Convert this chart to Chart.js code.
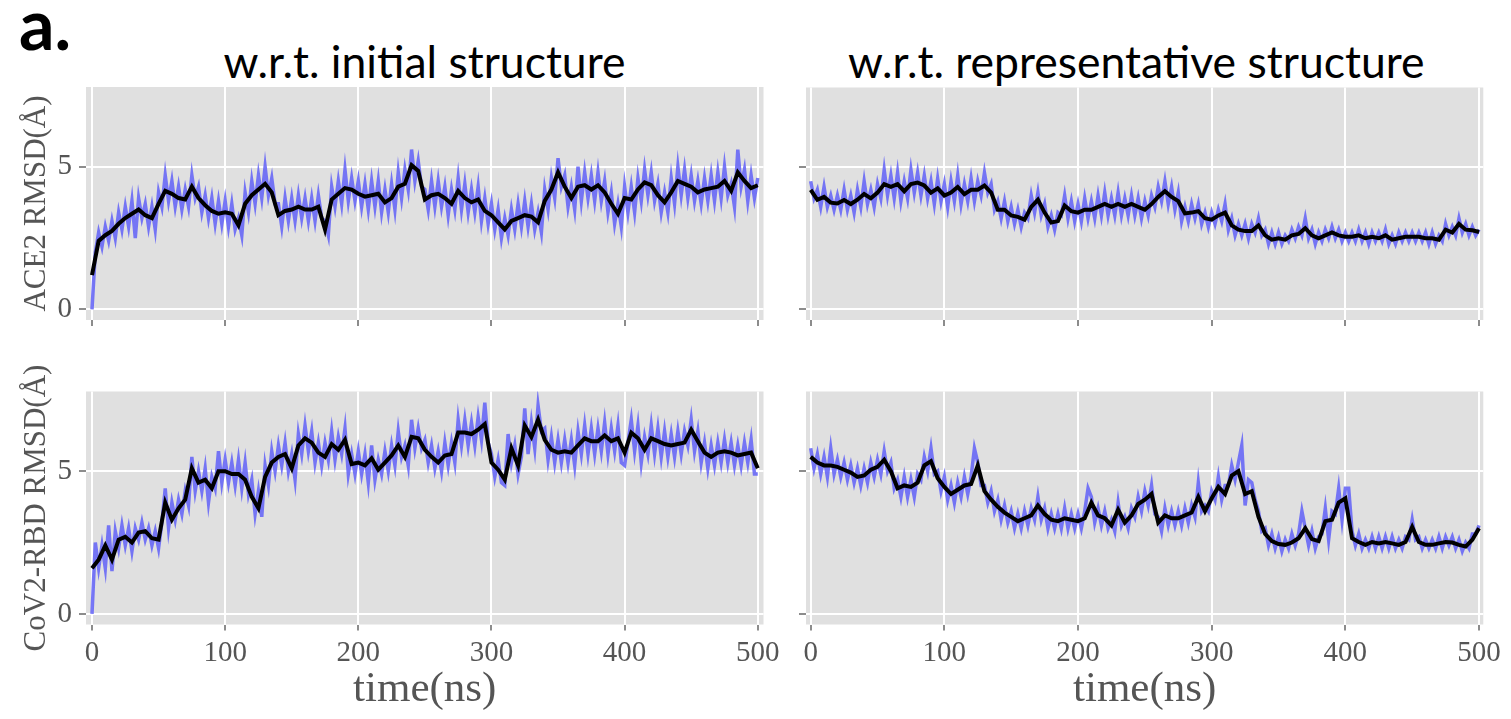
<!DOCTYPE html>
<html>
<head>
<meta charset="utf-8">
<script src="https://cdn.jsdelivr.net/npm/chart.js@4"></script>
<style>
  body { margin: 0; background: #fff; width: 1511px; height: 719px; position: relative; overflow: hidden; }
  canvas { position: absolute; }
  .title { position: absolute; font-family: Lato, sans-serif; font-size: 44.5px; line-height: 44.5px; color: #000; text-align: center; white-space: nowrap; }
  #tag { position: absolute; left: 19px; top: -12px; font-family: Lato, sans-serif; font-weight: bold; font-size: 70px; line-height: 70px; }
</style>
</head>
<body>
<div id="tag">a.</div>
<div class="title" style="left:223px; width:403px; top:39px;">w.r.t. initial structure</div>
<div class="title" style="left:848px; width:575px; top:39px;">w.r.t. representative structure</div>
<canvas id="c1" width="790" height="255" style="left:0; top:80px;"></canvas>
<canvas id="c2" width="721" height="255" style="left:790px; top:80px;"></canvas>
<canvas id="c3" width="790" height="379" style="left:0; top:340px;"></canvas>
<canvas id="c4" width="721" height="339" style="left:790px; top:380px;"></canvas>
<script>
// axis ticks
var xTicks = [0, 100, 200, 300, 400, 500];
var yTicks = [0, 5];

// ACE2 RMSD w.r.t. initial structure (raw every 2.5 ns, smoothed every 5 ns)
var ace2InitRaw = [
  0, 2.0, 2.7, 2.2, 2.9, 2.4, 3.1, 2.5, 3.4, 2.8, 3.6, 2.9, 3.8, 2.5, 3.9, 3.2, 3.7, 2.9, 3.6, 2.8,
  4.1, 3.6, 4.7, 3.8, 4.5, 3.6, 4.3, 3.5, 4.2, 3.6, 4.7, 3.9, 4.3, 3.4, 4.0, 3.2, 3.9, 3.0, 3.8, 3.0,
  3.8, 2.9, 3.7, 2.8, 3.2, 2.6, 4.1, 3.4, 4.5, 3.7, 4.7, 3.9, 5.0, 4.0, 4.6, 3.7, 3.7, 2.9, 3.9, 3.1,
  3.9, 3.1, 4.0, 3.2, 3.9, 3.1, 3.9, 3.1, 4.0, 3.2, 3.1, 2.6, 4.3, 3.6, 4.5, 3.7, 4.9, 3.8, 4.6, 3.8,
  4.5, 3.6, 4.4, 3.5, 4.5, 3.6, 4.5, 3.4, 4.2, 3.4, 4.4, 3.5, 4.8, 3.9, 4.9, 4.2, 5.6, 4.5, 5.2, 4.3,
  4.2, 3.5, 4.5, 3.6, 4.5, 3.6, 4.3, 3.3, 4.2, 3.5, 4.6, 3.5, 4.4, 3.4, 4.2, 3.4, 4.3, 3.1, 3.9, 3.0,
  3.7, 2.8, 3.5, 2.5, 3.2, 2.6, 3.5, 2.8, 3.7, 2.9, 3.8, 2.9, 3.7, 2.8, 3.4, 2.7, 4.2, 3.5, 4.6, 3.9,
  5.3, 4.3, 4.7, 3.6, 4.3, 3.5, 5.0, 3.8, 4.8, 3.9, 4.7, 3.8, 4.8, 3.8, 4.5, 3.4, 4.1, 3.0, 3.7, 2.9,
  4.3, 3.4, 4.3, 3.4, 4.6, 3.8, 4.9, 4.0, 4.8, 3.8, 4.4, 3.4, 4.1, 3.4, 4.6, 3.7, 5.0, 4.0, 4.9, 3.9,
  4.7, 3.8, 4.5, 3.7, 4.6, 3.8, 4.7, 3.8, 4.8, 3.9, 5.0, 4.0, 4.4, 3.6, 5.6, 4.3, 4.9, 3.8, 4.7, 3.9,
  4.6
];
var ace2InitSmooth = [
  1.2, 2.4, 2.6, 2.75, 3.0, 3.2, 3.35, 3.5, 3.3, 3.2,
  3.7, 4.15, 4.05, 3.9, 3.85, 4.3, 3.9, 3.65, 3.45, 3.35,
  3.4, 3.35, 2.95, 3.7, 4.0, 4.2, 4.4, 4.1, 3.3, 3.45,
  3.5, 3.6, 3.5, 3.5, 3.6, 2.8, 3.85, 4.05, 4.25, 4.2,
  4.05, 3.95, 4.0, 4.05, 3.75, 3.9, 4.3, 4.4, 5.05, 4.85,
  3.85, 4.0, 4.05, 3.9, 3.7, 4.15, 3.9, 3.75, 3.85, 3.45,
  3.3, 3.05, 2.8, 3.1, 3.2, 3.3, 3.25, 3.05, 3.8, 4.2,
  4.8, 4.3, 3.9, 4.3, 4.35, 4.2, 4.35, 4.1, 3.7, 3.35,
  3.9, 3.85, 4.2, 4.45, 4.35, 4.0, 3.75, 4.1, 4.5, 4.4,
  4.3, 4.1, 4.2, 4.25, 4.3, 4.5, 4.15, 4.8, 4.5, 4.25,
  4.35
];

// ACE2 RMSD w.r.t. representative structure
var ace2RepRaw = [
  4.5, 3.9, 4.2, 3.6, 4.3, 3.6, 4.0, 3.5, 4.0, 3.5, 4.2, 3.5, 4.0, 3.4, 4.2, 3.6, 4.5, 3.7, 4.2, 3.6,
  4.4, 3.9, 4.9, 4.0, 4.7, 3.9, 4.8, 3.8, 4.5, 3.9, 4.9, 4.1, 4.8, 4.0, 4.7, 3.9, 4.5, 3.7, 4.6, 3.8,
  4.4, 3.6, 4.5, 3.8, 4.7, 3.7, 4.4, 3.8, 4.6, 3.8, 4.5, 4.0, 4.8, 4.1, 4.4, 3.5, 3.8, 3.2, 3.8, 3.1,
  3.6, 3.0, 3.5, 2.9, 3.4, 3.2, 4.0, 3.4, 4.1, 3.3, 3.7, 2.9, 3.3, 2.8, 3.4, 3.3, 4.0, 3.2, 3.8, 3.1,
  3.7, 3.1, 3.9, 3.2, 3.8, 3.2, 4.0, 3.3, 4.1, 3.3, 3.9, 3.3, 4.1, 3.3, 3.9, 3.3, 4.0, 3.3, 3.9, 3.2,
  3.8, 3.3, 4.0, 3.6, 4.3, 3.8, 4.5, 3.7, 4.3, 3.5, 4.1, 3.1, 3.6, 3.1, 3.7, 3.2, 3.7, 3.0, 3.4, 2.9,
  3.4, 3.0, 3.5, 3.1, 3.7, 2.8, 3.2, 2.6, 3.0, 2.6, 3.0, 2.5, 3.0, 2.7, 3.2, 2.6, 2.8, 2.3, 2.7, 2.3,
  2.7, 2.3, 2.6, 2.4, 2.8, 2.5, 2.9, 2.6, 3.2, 2.5, 2.8, 2.3, 2.7, 2.4, 2.8, 2.5, 2.9, 2.5, 2.8, 2.4,
  2.7, 2.4, 2.7, 2.4, 2.8, 2.4, 2.7, 2.3, 2.7, 2.4, 2.7, 2.4, 2.8, 2.3, 2.6, 2.3, 2.7, 2.4, 2.7, 2.4,
  2.7, 2.4, 2.7, 2.4, 2.7, 2.3, 2.7, 2.3, 2.6, 2.4, 3.0, 2.6, 2.9, 2.6, 3.2, 2.7, 3.0, 2.6, 2.9, 2.6,
  2.8
];
var ace2RepSmooth = [
  4.2, 3.85, 3.95, 3.75, 3.72, 3.84, 3.7, 3.85, 4.05, 3.9,
  4.1, 4.4, 4.3, 4.4, 4.15, 4.4, 4.45, 4.35, 4.1, 4.25,
  4.0, 4.1, 4.3, 4.05, 4.2, 4.2, 4.35, 4.1, 3.5, 3.5,
  3.3, 3.25, 3.15, 3.6, 3.85, 3.4, 3.05, 3.1, 3.65, 3.45,
  3.4, 3.5, 3.5, 3.6, 3.7, 3.6, 3.7, 3.6, 3.7, 3.6,
  3.5, 3.7, 3.95, 4.15, 3.95, 3.8, 3.37, 3.4, 3.45, 3.2,
  3.15, 3.3, 3.4, 2.95, 2.8, 2.75, 2.75, 2.95, 2.6, 2.45,
  2.5, 2.45, 2.6, 2.65, 2.85, 2.6, 2.5, 2.6, 2.7, 2.6,
  2.55, 2.55, 2.6, 2.5, 2.55, 2.5, 2.6, 2.45, 2.5, 2.55,
  2.55, 2.55, 2.5, 2.5, 2.45, 2.8, 2.7, 3.0, 2.8, 2.78,
  2.72
];

// CoV2-RBD RMSD w.r.t. initial structure
var rbdInitRaw = [
  0, 2.5, 1.6, 2.4, 1.6, 3.1, 1.5, 2.9, 2.3, 3.1, 2.4, 3.0, 2.2, 3.0, 2.6, 3.2, 2.6, 3.0, 2.4, 2.9,
  2.3, 3.2, 4.4, 3.0, 3.9, 3.3, 4.0, 3.5, 4.3, 3.8, 5.5, 4.3, 5.0, 4.3, 5.1, 3.9, 4.8, 4.4, 5.7, 4.6,
  5.4, 4.6, 5.3, 4.5, 5.4, 4.4, 5.3, 4.2, 4.7, 3.5, 4.3, 3.4, 5.2, 4.5, 5.7, 5.0, 5.9, 5.2, 6.0, 5.0,
  5.6, 4.7, 6.3, 5.6, 6.6, 5.7, 6.4, 5.3, 6.0, 5.2, 6.0, 5.4, 6.4, 5.4, 6.2, 5.6, 6.5, 4.9, 5.6, 4.9,
  5.7, 4.9, 5.6, 4.6, 5.9, 4.7, 5.4, 4.9, 5.7, 5.0, 5.9, 5.2, 6.4, 5.5, 5.9, 5.2, 6.8, 5.8, 6.5, 5.8,
  6.1, 5.3, 5.9, 5.1, 5.7, 5.0, 6.0, 5.2, 6.0, 5.3, 6.8, 5.9, 6.8, 5.9, 6.7, 5.9, 6.9, 6.1, 7.4, 6.0,
  5.6, 4.8, 5.4, 4.6, 4.5, 6.3, 5.3, 5.9, 4.9, 5.5, 7.2, 5.6, 6.7, 5.8, 7.3, 6.4, 6.5, 5.4, 6.2, 5.3,
  6.1, 5.3, 6.1, 5.3, 6.1, 5.2, 6.4, 5.6, 6.6, 5.6, 6.5, 5.6, 6.5, 5.7, 6.7, 5.6, 6.5, 5.7, 6.6, 5.3,
  5.2, 6.0, 6.8, 5.7, 6.6, 5.3, 6.2, 5.6, 6.6, 5.6, 6.5, 5.5, 6.4, 5.5, 6.3, 5.5, 6.4, 5.6, 6.4, 5.9,
  6.8, 5.7, 6.4, 5.3, 6.0, 5.1, 5.9, 5.2, 6.0, 5.3, 6.1, 5.3, 6.0, 5.2, 5.9, 5.2, 6.0, 5.3, 6.1, 4.9,
  4.9
];
var rbdInitSmooth = [
  1.6, 1.9, 2.4, 1.9, 2.6, 2.7, 2.5, 2.85, 2.9, 2.65,
  2.6, 3.9, 3.3, 3.7, 4.0, 5.1, 4.6, 4.7, 4.4, 5.0,
  5.0, 4.9, 4.9, 4.7, 4.1, 3.7, 4.8, 5.3, 5.5, 5.6,
  5.1, 5.9, 6.15, 6.0, 5.65, 5.5, 5.95, 5.75, 6.1, 5.25,
  5.3, 5.2, 5.45, 5.05, 5.3, 5.55, 5.9, 5.5, 6.2, 6.15,
  5.75, 5.5, 5.3, 5.55, 5.6, 6.35, 6.35, 6.3, 6.45, 6.65,
  5.3, 5.05, 4.7, 5.8, 5.2, 6.6, 6.2, 6.8, 6.1, 5.75,
  5.65, 5.7, 5.65, 5.9, 6.15, 6.05, 6.05, 6.25, 6.05, 6.15,
  5.65, 6.35, 6.15, 5.75, 6.15, 6.05, 5.95, 5.9, 5.95, 6.0,
  6.45, 6.05, 5.65, 5.5, 5.65, 5.7, 5.65, 5.55, 5.6, 5.65,
  5.1
];

// CoV2-RBD RMSD w.r.t. representative structure
var rbdRepRaw = [
  5.8, 5.1, 5.6, 4.9, 5.5, 4.8, 5.8, 4.9, 5.4, 4.8, 5.3, 4.7, 5.2, 4.6, 5.1, 4.5, 5.1, 4.6, 5.3, 4.8,
  5.4, 4.9, 5.7, 5.0, 5.3, 4.4, 4.7, 4.1, 4.8, 4.1, 4.7, 4.1, 4.9, 4.7, 5.5, 5.0, 5.8, 4.9, 5.0, 4.3,
  4.8, 4.0, 4.5, 3.9, 4.6, 4.1, 4.8, 4.2, 4.8, 5.8, 5.3, 4.5, 4.5, 3.9, 4.3, 3.6, 4.0, 3.3, 3.8, 3.2,
  3.6, 3.0, 3.5, 3.0, 3.6, 3.1, 3.7, 3.3, 4.1, 3.3, 3.7, 3.0, 3.5, 3.0, 3.5, 3.0, 3.7, 3.0, 3.5, 3.0,
  3.5, 3.0, 3.6, 4.4, 4.1, 3.2, 3.7, 3.1, 3.6, 3.0, 3.3, 2.9, 3.9, 3.1, 3.4, 3.0, 3.7, 3.4, 4.1, 3.6,
  4.3, 3.8, 4.5, 3.5, 3.4, 2.9, 3.7, 3.1, 3.6, 3.1, 3.6, 3.1, 3.7, 3.2, 3.8, 3.4, 4.6, 3.6, 3.8, 3.6,
  4.3, 4.0, 4.8, 4.0, 4.5, 4.5, 5.2, 4.7, 5.3, 5.9, 3.8, 4.7, 4.6, 4.0, 3.6, 2.9, 3.0, 2.4, 2.8, 2.3,
  2.7, 2.2, 2.6, 2.3, 2.8, 2.4, 2.8, 3.6, 3.0, 2.4, 2.9, 2.3, 2.7, 2.8, 3.7, 2.6, 3.6, 3.5, 4.4, 3.3,
  4.4, 4.4, 2.9, 2.4, 2.8, 2.3, 2.6, 2.3, 2.7, 2.3, 2.7, 2.3, 2.7, 2.3, 2.7, 2.3, 2.6, 2.3, 2.7, 2.6,
  3.3, 2.6, 2.7, 2.3, 2.6, 2.3, 2.6, 2.3, 2.7, 2.3, 2.7, 2.4, 2.7, 2.3, 2.6, 2.2, 2.5, 2.3, 2.8, 2.8,
  3.1
];
var rbdRepSmooth = [
  5.5, 5.3, 5.2, 5.2, 5.15, 5.05, 4.95, 4.8, 4.85, 5.05,
  5.15, 5.4, 5.0, 4.4, 4.5, 4.45, 4.6, 5.2, 5.35, 4.75,
  4.45, 4.2, 4.35, 4.5, 4.55, 5.2, 4.3, 4.0, 3.75, 3.55,
  3.4, 3.25, 3.35, 3.45, 3.8, 3.5, 3.3, 3.25, 3.35, 3.3,
  3.25, 3.35, 3.9, 3.45, 3.35, 3.1, 3.65, 3.2, 3.45, 3.85,
  4.0, 4.2, 3.2, 3.45, 3.35, 3.35, 3.45, 3.55, 4.1, 3.6,
  4.05, 4.45, 4.2, 4.85, 5.0, 4.2, 4.3, 3.4, 2.8, 2.55,
  2.45, 2.42, 2.5, 2.65, 3.0, 2.62, 2.55, 3.25, 3.3, 3.9,
  4.05, 2.65, 2.52, 2.42, 2.52, 2.47, 2.52, 2.47, 2.42, 2.52,
  3.05, 2.52, 2.42, 2.42, 2.47, 2.52, 2.5, 2.42, 2.36, 2.6,
  3.0
];

var textGrey = '#555555';
var serif = "'Liberation Serif', 'DejaVu Serif', serif";

// grey panel background like ggplot
var panelBg = {
  id: 'panelBg',
  beforeDraw: function (chart) {
    var a = chart.chartArea, ctx = chart.ctx;
    ctx.save();
    ctx.fillStyle = '#e0e0e0';
    ctx.fillRect(a.left, a.top, a.right - a.left, a.bottom - a.top);
    ctx.restore();
  }
};

// samples spread evenly over 0..500 ns
function toPoints(arr) {
  return arr.map(function (v, i) { return { x: i * 500 / (arr.length - 1), y: v }; });
}

// keep the panel exactly where the layout puts it
function noPad(s) {
  s.paddingTop = 0; s.paddingBottom = 0; s.paddingLeft = 0; s.paddingRight = 0;
}

function panel(id, raw, smooth, o) {
  var ctx = document.getElementById(id).getContext('2d');
  return new Chart(ctx, {
    type: 'line',
    data: {
      datasets: [{
        // smoothed trace, drawn on top
        data: toPoints(smooth),
        borderColor: '#000000',
        borderWidth: 4,
        pointRadius: 0,
        tension: 0,
        order: 0
      }, {
        data: toPoints(raw),
        borderColor: 'rgba(104, 104, 246, 0.9)',
        borderWidth: 3.5,
        pointRadius: 0,
        tension: 0,
        order: 1
      }]
    },
    options: {
      responsive: false,
      animation: false,
      events: [],
      layout: { padding: { top: o.padTop, right: o.padRight, left: 0, bottom: 0 } },
      plugins: { legend: { display: false }, tooltip: { enabled: false } },
      scales: {
        x: {
          type: 'linear',
          min: o.xMin,
          max: o.xMax,
          afterBuildTicks: function (s) { s.ticks = xTicks.map(function (v) { return { value: v }; }); },
          afterFit: function (s) { s.height = o.xAxisH; noPad(s); },
          border: { display: false },
          grid: { color: '#ffffff', lineWidth: 2, tickColor: '#666', tickWidth: 1.5, tickLength: 6 },
          ticks: { display: o.xLabels, color: textGrey, font: { family: serif, size: 29 }, padding: 5, maxRotation: 0, autoSkip: false },
          title: { display: o.xLabels, text: 'time(ns)', color: textGrey, font: { family: serif, size: 43 }, padding: { top: 0, bottom: 3 } }
        },
        y: {
          min: -0.37,
          max: 7.79,
          afterBuildTicks: function (s) { s.ticks = yTicks.map(function (v) { return { value: v }; }); },
          afterFit: function (s) { s.width = o.yAxisW; noPad(s); },
          border: { display: false },
          grid: { color: '#ffffff', lineWidth: 2, tickColor: '#666', tickWidth: 1.5, tickLength: 7 },
          ticks: { display: o.yLabels, color: textGrey, font: { family: serif, size: 29 }, padding: 7 },
          title: { display: !!o.yTitle, text: o.yTitle || '', color: textGrey, font: { family: serif, size: 31 }, padding: { top: 18, bottom: 0 } }
        }
      }
    },
    plugins: [panelBg]
  });
}

panel('c1', ace2InitRaw, ace2InitSmooth, {
  xMin: -4.5, xMax: 504.3, padTop: 7, padRight: 26.5, yAxisW: 86, xAxisH: 15,
  xLabels: false, yLabels: true, yTitle: 'ACE2 RMSD(Å)'
});
panel('c2', ace2RepRaw, ace2RepSmooth, {
  xMin: -3.5, xMax: 503.2, padTop: 7.5, padRight: 27.7, yAxisW: 16, xAxisH: 15,
  xLabels: false, yLabels: false
});
panel('c3', rbdInitRaw, rbdInitSmooth, {
  xMin: -4.5, xMax: 504.3, padTop: 51.5, padRight: 26.5, yAxisW: 86, xAxisH: 94.5,
  xLabels: true, yLabels: true, yTitle: 'CoV2-RBD RMSD(Å)'
});
panel('c4', rbdRepRaw, rbdRepSmooth, {
  xMin: -3.5, xMax: 503.2, padTop: 11.5, padRight: 27.7, yAxisW: 16, xAxisH: 94.5,
  xLabels: true, yLabels: false
});
</script>
</body>
</html>
